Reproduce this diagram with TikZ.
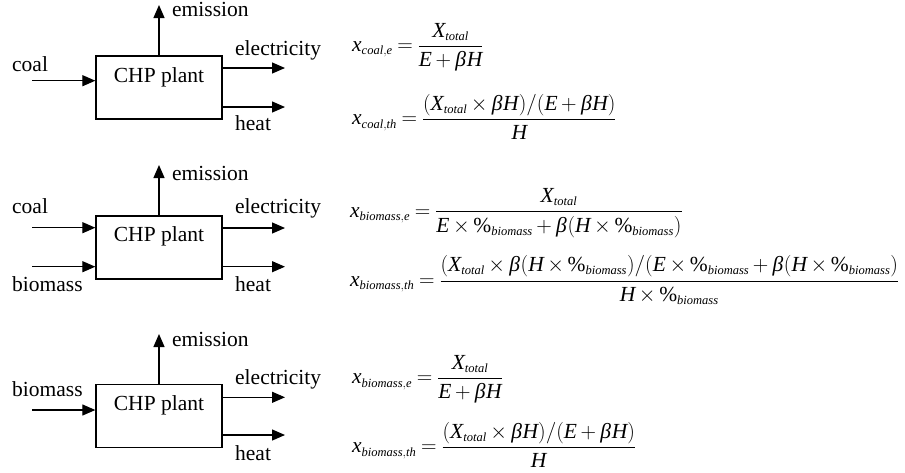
\documentclass[tikz,border=0pt]{standalone}
\usepackage{fix-cm}
\usepackage{amsmath}
\usepackage{mathspec}
\setmainfont{Liberation Serif}
\setmathsfont(Digits,Latin,Greek){Liberation Serif}
\DeclareMathSizes{21.5}{21.5}{12.5}{10}
\newcommand{\pct}{\text{\upshape\%}}
\usetikzlibrary{arrows.meta}
\begin{document}
\begin{tikzpicture}[x=1pt,y=-1pt,
  every node/.style={font=\fontsize{21.5}{26}\selectfont},
  plant/.style={draw,line width=1.3pt,minimum width=126pt,minimum height=63pt,inner sep=0pt},
  lbl/.style={inner sep=0pt,anchor=base west},
  flow/.style={line width=1.2pt,-{Triangle[length=13pt,width=11pt]}},
  eqn/.style={inner sep=0pt,anchor=west,execute at begin node={\medmuskip=3mu\thickmuskip=4mu}}]
\useasboundingbox (0,0) rectangle (905,472);

% ---------- group 1 ----------
\node[plant] (b1) at (159,87.5) {};
\node[lbl,anchor=base] (t1) at (159,82) {CHP plant};
\coordinate (e1) at (159,5);
\coordinate (c1in) at (32,80.7);
\coordinate (el1) at (285,68);
\coordinate (h1) at (285,107);
\draw[flow] (b1.north -| e1) -- (e1);
\draw[flow] (c1in) -- (b1.west |- c1in);
\draw[flow] (b1.east |- el1) -- (el1);
\draw[flow] (b1.east |- h1) -- (h1);
\node[lbl] (le1) at (172,16.7) {emission};
\node[lbl] (lc1) at (12,71) {coal};
\node[lbl] (lel1) at (235,55) {electricity};
\node[lbl] (lh1) at (235,130) {heat};
\node[eqn] (q1) at (352,47) {$x_{coal,e} = \dfrac{X_{total}}{E+\beta H}$};
\node[eqn] (q2) at (352,117) {$x_{coal,th} = \dfrac{(X_{total}\times\beta H)/(E+\beta H)}{H}$};

% ---------- group 2 ----------
\node[plant] (b2) at (159,247.5) {};
\node[lbl,anchor=base] (t2) at (159,241.7) {CHP plant};
\coordinate (e2) at (159,165);
\coordinate (c2in) at (32,227.7);
\coordinate (bm2in) at (32,266.7);
\coordinate (el2) at (285,228);
\coordinate (h2) at (285,266.7);
\draw[flow] (b2.north -| e2) -- (e2);
\draw[flow] (c2in) -- (b2.west |- c2in);
\draw[flow] (bm2in) -- (b2.west |- bm2in);
\draw[flow] (b2.east |- el2) -- (el2);
\draw[flow] (b2.east |- h2) -- (h2);
\node[lbl] (le2) at (172,180.7) {emission};
\node[lbl] (lc2) at (12,213.3) {coal};
\node[lbl] (lbm2) at (12,291.7) {biomass};
\node[lbl] (lel2) at (235,213.3) {electricity};
\node[lbl] (lh2) at (235,291.7) {heat};
\node[eqn] (q3) at (350,213) {$x_{biomass,e} = \dfrac{X_{total}}{E\times\pct_{biomass}+\beta(H\times\pct_{biomass})}$};
\node[eqn] (q4) at (350,280) {$x_{biomass,th} = \dfrac{(X_{total}\times\beta(H\times\pct_{biomass})/(E\times\pct_{biomass}+\beta(H\times\pct_{biomass})}{H\times\pct_{biomass}}$};

% ---------- group 3 ----------
\node[plant] (b3) at (159,416) {};
\node[lbl,anchor=base] (t3) at (159,410) {CHP plant};
\coordinate (e3) at (159,334);
\coordinate (bm3in) at (32,410);
\coordinate (el3) at (285,397.3);
\coordinate (h3) at (285,435);
\draw[flow] (b3.north -| e3) -- (e3);
\draw[flow] (bm3in) -- (b3.west |- bm3in);
\draw[flow] (b3.east |- el3) -- (el3);
\draw[flow] (b3.east |- h3) -- (h3);
\node[lbl] (le3) at (172,346) {emission};
\node[lbl] (lbm3) at (12,396.7) {biomass};
\node[lbl] (lel3) at (235,384.3) {electricity};
\node[lbl] (lh3) at (235,460) {heat};
\node[eqn] (q5) at (352,379.3) {$x_{biomass,e} = \dfrac{X_{total}}{E+\beta H}$};
\node[eqn] (q6) at (352,445) {$x_{biomass,th} = \dfrac{(X_{total}\times\beta H)/(E+\beta H)}{H}$};
\end{tikzpicture}
\end{document}
